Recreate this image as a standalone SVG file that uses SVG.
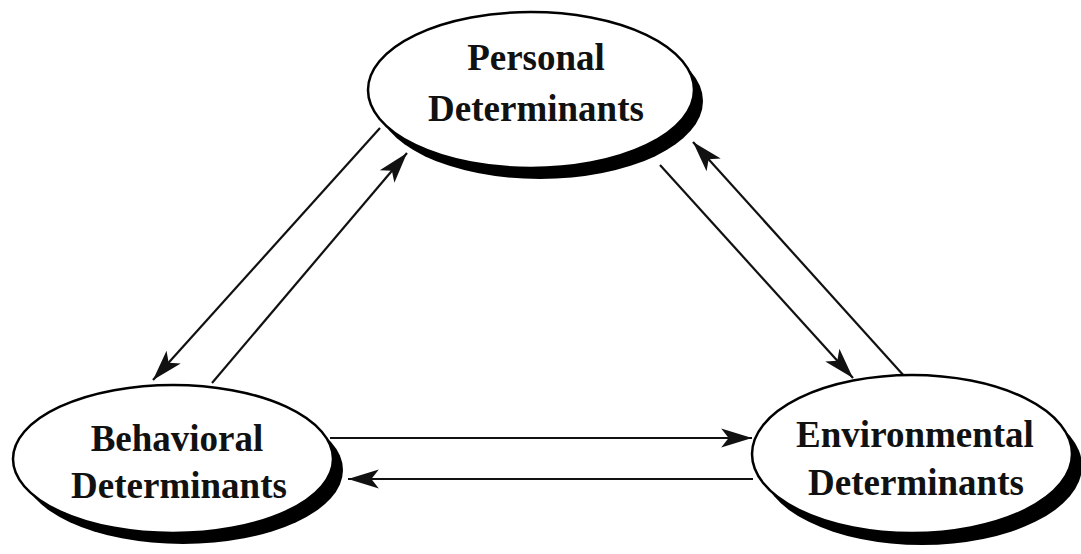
<svg xmlns="http://www.w3.org/2000/svg" width="1081" height="554" viewBox="0 0 1081 554">
<style>
.shadow{fill:#000}
.node{fill:#fff;stroke:#000;stroke-width:2.5}
.lbl{font-family:"Liberation Serif","Times New Roman",serif;font-weight:bold;font-size:37px;fill:#111;text-anchor:middle}
.conn{stroke:#111;stroke-width:2.2;fill:none;marker-end:url(#ah)}
</style>
<defs>
<marker id="ah" markerUnits="userSpaceOnUse" markerWidth="34" markerHeight="24" viewBox="-30 -10 32 20" refX="0" refY="0" orient="auto">
<path d="M0,0 L-29,-9 L-22,0 L-29,9 Z" fill="#111"/>
</marker>
</defs>
<rect width="1081" height="554" fill="#fff"/>
<g id="connectors">
<line class="conn" x1="380" y1="128" x2="153" y2="380"/>
<line class="conn" x1="212" y1="383" x2="407" y2="153"/>
<line class="conn" x1="660" y1="165" x2="853" y2="378"/>
<line class="conn" x1="905" y1="377" x2="693" y2="142"/>
<line class="conn" x1="330" y1="438" x2="752" y2="438"/>
<line class="conn" x1="753" y1="479" x2="348" y2="479"/>
</g>
<g id="personal">
<ellipse class="shadow" cx="540" cy="101" rx="163" ry="78"/>
<ellipse class="node" cx="531" cy="90" rx="163" ry="78"/>
<text class="lbl" x="536" y="70">Personal</text>
<text class="lbl" x="536" y="121">Determinants</text>
</g>
<g id="behavioral">
<ellipse class="shadow" cx="183" cy="470" rx="160" ry="74"/>
<ellipse class="node" cx="173" cy="459" rx="160" ry="74"/>
<text class="lbl" x="177" y="451">Behavioral</text>
<text class="lbl" x="179" y="498">Determinants</text>
</g>
<g id="environmental">
<ellipse class="shadow" cx="922" cy="466" rx="160" ry="79"/>
<ellipse class="node" cx="912" cy="454" rx="160" ry="79"/>
<text class="lbl" x="915" y="447">Environmental</text>
<text class="lbl" x="916" y="495">Determinants</text>
</g>
</svg>
